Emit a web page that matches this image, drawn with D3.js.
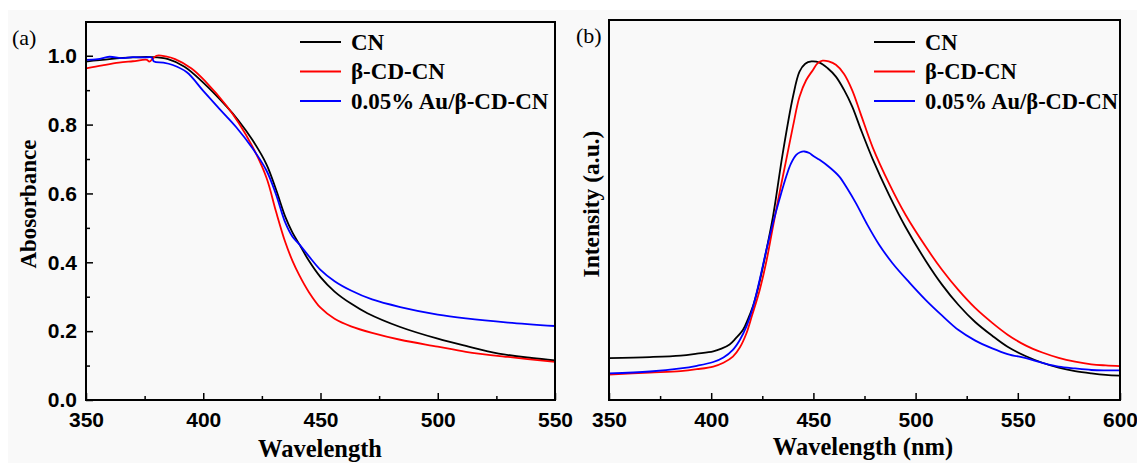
<!DOCTYPE html>
<html>
<head>
<meta charset="utf-8">
<script src="https://cdn.jsdelivr.net/npm/d3@7"></script>
<style>
  body { margin: 0; background: #fff; }
  svg { display: block; font-family: "Liberation Serif", "Times New Roman", serif; }
  .tick text { font-weight: bold; font-size: 21px; fill: #000; }
  .tick line { stroke: #000; stroke-width: 1.5; }
</style>
</head>
<body>
<div id="chart"></div>
<script>
const width = 1137;
const height = 463;

// series names and colours
const seriesNames = ["CN", "β-CD-CN", "0.05% Au/β-CD-CN"];
const seriesColors = ["#000000", "#ff0000", "#0000ff"];

// (a) UV-vis absorbance, [wavelength, absorbance]
const absCN = [[350,0.983],[360,0.99],[370,0.995],[378,0.996],[385,0.99],[392,0.968],[400,0.922],[410,0.852],[415,0.812],[421,0.755],[427,0.684],[431,0.612],[435,0.532],[438,0.487],[441,0.452],[445,0.405],[450,0.357],[456,0.315],[463,0.28],[470,0.252],[484,0.212],[500,0.178],[512,0.157],[526,0.135],[540,0.122],[550,0.115]];
const absCD = [[350,0.963],[357,0.972],[364,0.98],[370,0.984],[376,0.988],[377,0.983],[380,1.0],[384,0.998],[388,0.99],[395,0.963],[401,0.925],[410,0.854],[415,0.806],[421,0.736],[427,0.645],[431,0.548],[435,0.458],[438,0.405],[441,0.362],[445,0.314],[450,0.268],[456,0.236],[463,0.214],[472,0.195],[484,0.175],[500,0.155],[512,0.14],[530,0.125],[550,0.111]];
const absAu = [[350,0.988],[355,0.99],[360,0.997],[365,0.993],[370,0.996],[375,0.995],[378,0.995],[379,0.983],[383,0.98],[387,0.973],[393,0.952],[400,0.898],[407,0.845],[414,0.793],[421,0.731],[427,0.666],[431,0.598],[435,0.515],[438,0.475],[441,0.452],[445,0.418],[450,0.378],[456,0.345],[463,0.318],[472,0.292],[484,0.27],[500,0.248],[512,0.237],[530,0.225],[550,0.215]];

// (b) PL intensity (arbitrary units 0-100), [wavelength, intensity]
const plCN = [[350,11.0],[370,11.3],[385,11.7],[393,12.2],[401,12.8],[405,13.5],[409,14.6],[412,16.2],[415.5,18.4],[418,21.3],[420.5,24.8],[423,29.6],[425.3,35.1],[430.2,48.2],[435,64.9],[440,79.8],[443.2,86.4],[446,88.5],[449,89.1],[453,88.8],[457,87.3],[461,85.1],[465,81.6],[469,77.2],[473,71.5],[479,63.4],[487,54.0],[495,45.6],[505,36.6],[513,30.3],[521,25.0],[529,20.6],[537.5,16.9],[545,14.0],[554,11.5],[562,9.8],[570,8.5],[578,7.6],[586,7.0],[593,6.6],[600,6.4]];
const plCD = [[350,6.7],[370,7.2],[385,7.6],[393,8.1],[401,8.8],[406,9.8],[410.6,11.4],[414,13.8],[417.2,17.5],[420,22.3],[423.7,28.9],[427,36.5],[430.2,45.6],[433.5,54.7],[436.7,63.2],[440,72],[443.2,79.8],[446.5,84.2],[449.7,86.8],[452,88.6],[454.5,89.3],[457.5,89.1],[461,88.2],[465,85.8],[469,81.5],[473,75.5],[479,66.5],[487,57.0],[495,48.8],[505,40.3],[513,34.2],[521,28.9],[529,24.3],[537.5,20.3],[545,17.2],[554,14.3],[562,12.5],[570,11.1],[578,10.1],[586,9.4],[593,9.1],[600,8.9]];
const plAu = [[350,7.0],[370,7.5],[385,8.3],[393,9.0],[401,10.0],[406,11.2],[410.6,13.2],[414,15.8],[417.2,19.3],[420.5,24.6],[423.7,31.6],[427,39.5],[430.2,46.5],[433.5,53],[436.7,58.8],[439,62.2],[441.6,64.5],[443.5,65.2],[445.6,65.4],[448,65],[450,64.2],[453,63.2],[458,61.2],[462.7,58.8],[466.5,55.7],[470.8,51.8],[476,46.5],[482,41.0],[488.7,36],[497,30.9],[505,26.3],[513,22.2],[521,18.4],[529,15.7],[537.5,13.6],[545,12.1],[554,11.0],[562,9.8],[570,8.8],[578,8.3],[586,7.9],[593,7.8],[600,7.8]];

// ticks
const xTicksA = [350, 400, 450, 500, 550];
const xMinorA = [375, 425, 475, 525];
const yTicksA = [0.0, 0.2, 0.4, 0.6, 0.8, 1.0];
const yMinorA = [0.1, 0.3, 0.5, 0.7, 0.9];
const xTicksB = [350, 400, 450, 500, 550, 600];
const xMinorB = [375, 425, 475, 525, 575];

const svg = d3.select("#chart")
    .append("svg")
    .attr("width", width)
    .attr("height", height);

// light grey page background like the scanned figure
svg.append("rect")
    .attr("x", 8).attr("y", 10)
    .attr("width", width - 8).attr("height", height - 10)
    .attr("fill", "#f9f9f9");

function drawPanel(p) {
    const x = d3.scaleLinear().domain(p.xDomain).range([p.left, p.right]);
    const y = d3.scaleLinear().domain(p.yDomain).range([p.bottom, p.top]);
    const g = svg.append("g");

    // minor and major ticks on bottom, pointing inward
    g.append("g")
        .attr("transform", `translate(0,${p.bottom})`)
        .call(d3.axisBottom(x).tickValues(p.xMinor).tickSize(-4).tickFormat(""))
        .call(a => a.select(".domain").remove());
    g.append("g")
        .attr("transform", `translate(0,${p.bottom})`)
        .call(d3.axisBottom(x).tickValues(p.xTicks).tickSize(-7).tickPadding(12).tickFormat(d3.format("d")))
        .call(a => a.select(".domain").remove());

    if (p.yTicks) {
        g.append("g")
            .attr("transform", `translate(${p.left},0)`)
            .call(d3.axisLeft(y).tickValues(p.yMinor).tickSize(-4).tickFormat(""))
            .call(a => a.select(".domain").remove());
        g.append("g")
            .attr("transform", `translate(${p.left},0)`)
            .call(d3.axisLeft(y).tickValues(p.yTicks).tickSize(-7).tickPadding(9).tickFormat(d3.format(".1f")))
            .call(a => a.select(".domain").remove());
    }

    const line = d3.line()
        .x(d => x(d[0]))
        .y(d => y(d[1]))
        .curve(d3.curveCatmullRom.alpha(0.5));

    const clipId = "clip" + p.name;
    g.append("clipPath").attr("id", clipId)
        .append("rect")
        .attr("x", p.left).attr("y", p.top)
        .attr("width", p.right - p.left).attr("height", p.bottom - p.top);

    g.append("g")
        .attr("clip-path", `url(#${clipId})`)
        .selectAll("path")
        .data(p.series)
        .enter().append("path")
        .attr("d", d => line(d))
        .attr("fill", "none")
        .attr("stroke", (d, i) => seriesColors[i])
        .attr("stroke-width", 1.8);

    // frame
    g.append("rect")
        .attr("x", p.left).attr("y", p.top)
        .attr("width", p.right - p.left).attr("height", p.bottom - p.top)
        .attr("fill", "none")
        .attr("stroke", "#000")
        .attr("stroke-width", 2);

    // legend
    const leg = g.append("g");
    seriesNames.forEach((name, i) => {
        const ly = p.legendY + i * 29.5;
        leg.append("line")
            .attr("x1", p.legendX).attr("x2", p.legendX + 41)
            .attr("y1", ly).attr("y2", ly)
            .attr("stroke", seriesColors[i])
            .attr("stroke-width", 1.8);
        leg.append("text")
            .attr("x", p.legendX + 51).attr("y", ly + 7.5)
            .attr("font-size", p.legendSize)
            .attr("font-weight", "bold")
            .text(name);
    });

    // panel label
    g.append("text")
        .attr("x", p.labelX).attr("y", p.labelY)
        .attr("font-size", 22)
        .text(p.label);

    // axis titles
    g.append("text")
        .attr("x", p.xTitleX).attr("y", p.xTitleY)
        .attr("text-anchor", "middle")
        .attr("font-size", 24.5)
        .attr("font-weight", "bold")
        .text(p.xTitle);
    g.append("text")
        .attr("transform", `translate(${p.yTitleX},${p.yTitleY}) rotate(-90)`)
        .attr("text-anchor", "middle")
        .attr("font-size", p.yTitleSize)
        .attr("font-weight", "bold")
        .text(p.yTitle);
}

drawPanel({
    name: "a", left: 86, right: 555, top: 22, bottom: 400,
    xDomain: [350, 550], yDomain: [0, 1.098],
    xTicks: xTicksA, xMinor: xMinorA, yTicks: yTicksA, yMinor: yMinorA,
    series: [absCN, absCD, absAu],
    legendX: 300, legendY: 42, legendSize: 23,
    label: "(a)", labelX: 12, labelY: 45,
    xTitle: "Wavelength", xTitleX: 320, xTitleY: 457,
    yTitle: "Abosorbance", yTitleX: 36, yTitleY: 204, yTitleSize: 23
});

drawPanel({
    name: "b", left: 609, right: 1120, top: 20, bottom: 400,
    xDomain: [350, 600], yDomain: [0, 100],
    xTicks: xTicksB, xMinor: xMinorB,
    series: [plCN, plCD, plAu],
    legendX: 874, legendY: 42, legendSize: 22.5,
    label: "(b)", labelX: 576, labelY: 43,
    xTitle: "Wavelength (nm)", xTitleX: 863, xTitleY: 455,
    yTitle: "Intensity (a.u.)", yTitleX: 599, yTitleY: 204, yTitleSize: 23.5
});
</script>
</body>
</html>
